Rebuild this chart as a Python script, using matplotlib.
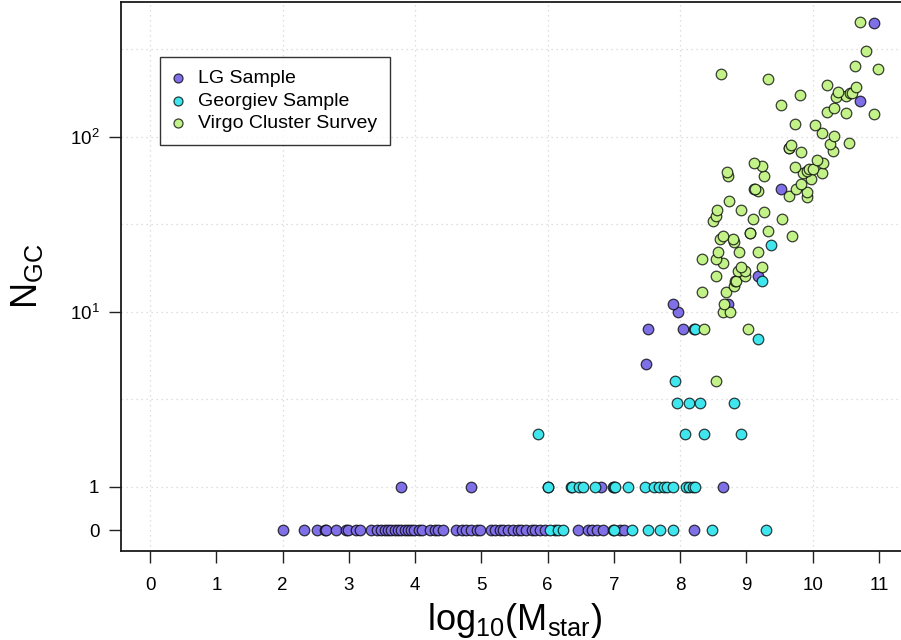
import numpy as np
import matplotlib
matplotlib.use('Agg')
import matplotlib.pyplot as plt

plt.rcParams['font.family'] = ['Liberation Sans', 'DejaVu Sans']
plt.rcParams['mathtext.fontset'] = 'custom'
plt.rcParams['mathtext.rm'] = 'Liberation Sans'
plt.rcParams['mathtext.it'] = 'Liberation Sans:italic'

# Local Group sample: log10(M_star), N_GC
lg_logm = [2.0, 2.32, 2.52, 2.64, 2.65, 2.80, 2.96, 2.99, 3.11, 3.17, 3.33, 3.42,
           3.49, 3.54, 3.59, 3.64, 3.69, 3.74, 3.79, 3.84, 3.89, 3.94, 3.99, 4.06,
           4.10, 4.22, 4.30, 4.35, 4.42, 4.62, 4.70, 4.77, 4.85, 4.93, 4.98, 5.15,
           5.20, 5.28, 5.33, 5.40, 5.48, 5.55, 5.60, 5.68, 5.76, 5.81, 5.88, 5.96,
           6.11, 6.46, 6.61, 6.67, 6.74, 6.84, 7.09, 7.15, 8.21,
           3.78, 4.84, 6.81, 8.65,
           7.49, 7.52, 8.04, 8.21, 7.97, 7.89, 8.72, 9.17, 9.52, 10.71, 10.92]
lg_ngc = [0] * 57 + [1] * 4 + [5, 8, 8, 8, 10, 11, 11, 16, 50, 161, 448]

# Georgiev sample
geo_logm = [6.03, 6.16, 6.23, 6.98, 7.00, 7.28, 7.51, 7.70, 7.89, 8.48, 9.30,
            6.00, 6.01, 6.36, 6.37, 6.48, 6.53, 6.71, 6.98, 7.00, 7.02, 7.21, 7.47,
            7.60, 7.68, 7.75, 7.80, 7.89, 8.09, 8.14, 8.19, 8.23,
            5.85, 8.07, 8.36, 8.92,
            7.96, 8.14, 8.30, 8.82,
            7.93, 9.17, 8.23, 9.24, 9.37]
geo_ngc = [0] * 11 + [1] * 21 + [2] * 4 + [3] * 4 + [4, 7, 8, 15, 24]

# Virgo Cluster Survey
vcs_logm = [8.54, 8.36, 9.02, 8.65, 8.75, 8.67, 8.33, 8.70, 8.82, 8.83, 8.84,
            8.54, 8.98, 8.88, 8.98, 8.92, 9.24, 8.65, 8.33, 8.54, 8.57, 8.89, 9.18,
            8.82, 8.60, 8.80, 8.65, 9.69, 9.05, 9.06, 9.33, 8.50, 9.10, 9.54, 8.54,
            9.27, 8.55, 8.92, 8.74, 9.92, 9.65, 9.91, 9.17, 9.12, 9.13, 9.75, 9.82,
            9.97, 8.72, 9.27, 9.85, 10.14, 8.71, 9.91, 9.95, 10.00, 9.73, 9.24,
            9.12, 10.15, 10.06, 9.83, 10.31, 9.64, 9.65, 9.68, 10.26, 10.55, 10.32,
            10.14, 10.03, 9.73, 10.93, 10.50, 10.22, 10.33, 9.52, 10.36, 10.51,
            9.81, 10.57, 10.59, 10.38, 10.66, 10.22, 9.33, 8.62, 10.98, 10.64,
            10.80, 10.72]
vcs_ngc = [4, 8, 8, 10, 10, 11, 13, 13, 14, 15, 15,
           16, 16, 17, 17, 18, 18, 19, 20, 20, 22, 22, 22,
           25, 26, 26, 27, 27, 28, 28, 29, 33, 34, 34, 35,
           37, 38, 38, 43, 45, 46, 48, 49, 50, 50, 50, 54,
           57, 60, 60, 62, 62, 63, 64, 65, 65, 67, 68,
           71, 71, 74, 82, 83, 86, 86, 90, 91, 92, 101,
           105, 116, 119, 134, 136, 138, 146, 152, 168, 171,
           173, 177, 177, 181, 192, 197, 213, 228, 244, 255,
           308, 454]

zero_pos = -0.25  # where N=0 sits on the log axis


def to_y(n):
    n = np.asarray(n, dtype=float)
    out = np.full(n.shape, zero_pos)
    pos = n > 0
    out[pos] = np.log10(n[pos])
    return out


fig = plt.figure(figsize=(9.01, 6.4), dpi=100)
ax = fig.add_axes([121 / 901, 1 - 550.7 / 640, (908 - 121) / 901, (550.7 - 2) / 640])

for xg in range(0, 11, 2):
    ax.axvline(xg, color='#d4d4d4', lw=0.9, ls=(0, (1, 3)), zorder=0)
for yg in np.arange(0, 3, 0.5):
    ax.axhline(yg, color='#d4d4d4', lw=0.9, ls=(0, (1, 3)), zorder=0)

edge = (0, 0, 0, 0.75)
ax.scatter(lg_logm, to_y(lg_ngc), s=58, c='#8070e8', edgecolors=[edge],
           linewidths=0.9, label='LG Sample', zorder=3)
ax.scatter(geo_logm, to_y(geo_ngc), s=58, c='#40e6ee', edgecolors=[edge],
           linewidths=0.9, label='Georgiev Sample', zorder=3)
ax.scatter(vcs_logm, to_y(vcs_ngc), s=58, c='#c2f288', edgecolors=[edge],
           linewidths=0.9, label='Virgo Cluster Survey', zorder=3)

ax.set_xlim(-0.44, 11.44)
ax.set_ylim(-0.366, 2.770)
ax.set_xticks(range(0, 12))
ax.set_yticks([zero_pos, 0, 1, 2])
ax.set_yticklabels(['0', '1', r'$\mathregular{10^1}$', r'$\mathregular{10^2}$'])
ax.tick_params(axis='both', direction='out', length=8.6, width=1.0,
               labelsize=13.5, color='#222222')
ax.tick_params(axis='x', pad=10)
ax.tick_params(axis='y', pad=7)

for side in ['left', 'bottom', 'top']:
    ax.spines[side].set_linewidth(1.3)
    ax.spines[side].set_color('#1a1a1a')
ax.spines['right'].set_visible(False)

ax.set_xlabel(r'$\mathregular{log_{10}(M_{star})}$', fontsize=26)
ax.xaxis.label.set_verticalalignment('baseline')
ax.xaxis.set_label_coords(0.5, (550.7 - 629.5) / 548.7)
ax.set_ylabel(r'$\mathregular{N_{GC}}$', fontsize=26)
ax.yaxis.set_label_coords((45 - 121) / 787, 0.5)

leg = ax.legend(loc='upper left', bbox_to_anchor=((160 - 121) / 787, (550.7 - 57) / 548.7),
                borderaxespad=0, fontsize=14, frameon=True, fancybox=False,
                handlelength=0.6, handletextpad=0.7, labelspacing=0.25,
                borderpad=0.65, markerscale=0.85)
leg.get_frame().set_edgecolor('black')
leg.get_frame().set_linewidth(1.0)

fig.savefig('out.png', dpi=100)
